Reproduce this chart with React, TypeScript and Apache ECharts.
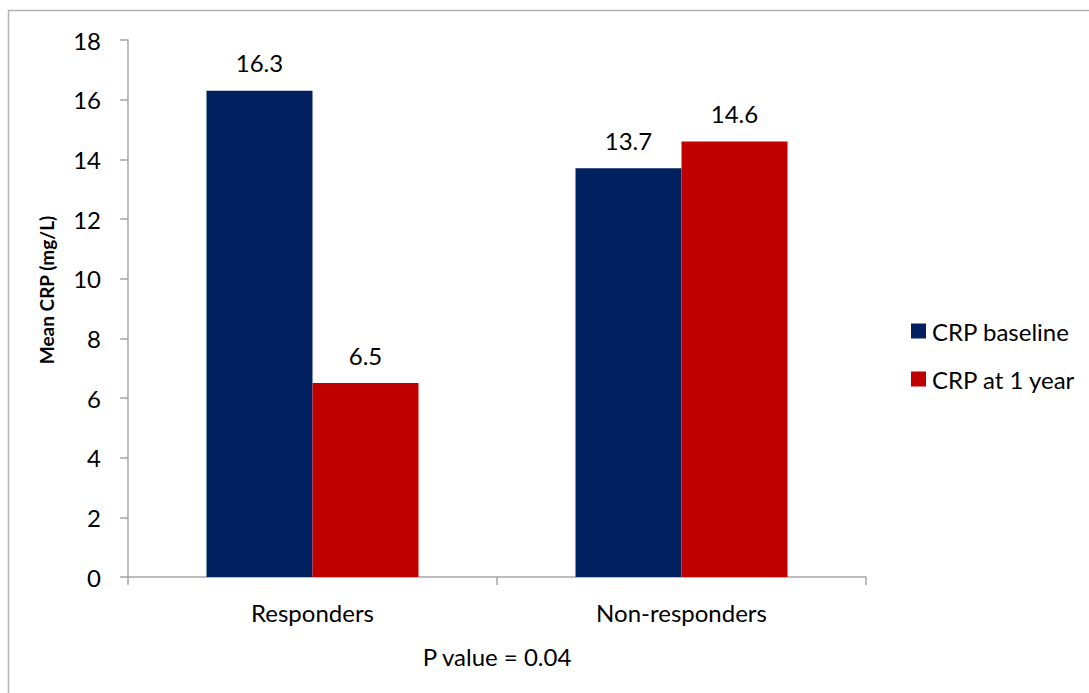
import React, { useEffect, useRef } from "react";
import * as echarts from "echarts";

const categories = ["Responders", "Non-responders"];
const seriesNames = ["CRP baseline", "CRP at 1 year"];
const baselineValues = [16.3, 13.7];
const oneYearValues = [6.5, 14.6];
const yTicks = { min: 0, max: 18, interval: 2 };
const yAxisTitle = "Mean CRP (mg/L)";
const footnote = "P value = 0.04";

const FONT = "Lato";
const FS = 24;

export default function App() {
  const ref = useRef<HTMLDivElement>(null);
  useEffect(() => {
    if (!ref.current) return;
    const chart = echarts.init(ref.current, undefined, { renderer: "svg" });
    const labelStyle = {
      show: true,
      position: "top" as const,
      distance: 16,
      fontFamily: FONT,
      fontSize: FS,
      color: "#000",
    };
    chart.setOption({
      animation: false,
      backgroundColor: "#fff",
      grid: { left: 128, right: 223, top: 40, bottom: 116, containLabel: false },
      legend: {
        orient: "vertical",
        left: 911,
        top: 319,
        padding: 0,
        itemWidth: 15,
        itemHeight: 15,
        itemGap: 24,
        icon: "rect",
        textStyle: { fontFamily: FONT, fontSize: FS, color: "#000", padding: [0, 0, 0, 1] },
        data: seriesNames,
      },
      xAxis: {
        type: "category",
        data: categories,
        axisLine: { lineStyle: { color: "#a6a6a6", width: 1.5 } },
        axisTick: { show: true, length: 8, lineStyle: { color: "#a6a6a6", width: 1.5 } },
        axisLabel: { fontFamily: FONT, fontSize: FS, color: "#000", margin: 23 },
      },
      yAxis: {
        type: "value",
        min: yTicks.min,
        max: yTicks.max,
        interval: yTicks.interval,
        splitLine: { show: false },
        axisLine: { show: true, lineStyle: { color: "#a6a6a6", width: 1.5 } },
        axisTick: { show: true, length: 8, lineStyle: { color: "#a6a6a6", width: 1.5 } },
        axisLabel: { fontFamily: FONT, fontSize: FS, color: "#000", margin: 27 },
      },
      series: [
        {
          name: seriesNames[0],
          type: "bar",
          data: baselineValues,
          barWidth: 106,
          barGap: "0%",
          itemStyle: { color: "#002060" },
          label: labelStyle,
        },
        {
          name: seriesNames[1],
          type: "bar",
          data: oneYearValues,
          barWidth: 106,
          barGap: "0%",
          itemStyle: { color: "#C00000" },
          label: labelStyle,
        },
      ],
      graphic: [
        {
          type: "rect",
          shape: { x: 8.5, y: 10.5, width: 1200, height: 800 },
          style: { fill: "none", stroke: "#b3b3b3", lineWidth: 1.5 },
          silent: true,
        },
        {
          type: "text",
          x: 46,
          y: 290,
          rotation: Math.PI / 2,
          style: {
            text: yAxisTitle,
            fontFamily: FONT,
            fontSize: 19,
            fontWeight: "bold",
            fill: "#000",
            align: "center",
            verticalAlign: "middle",
          },
        },
        {
          type: "text",
          x: 497,
          y: 656,
          style: {
            text: footnote,
            fontFamily: FONT,
            fontSize: FS,
            fill: "#000",
            align: "center",
            verticalAlign: "middle",
          },
        },
      ],
    });
    return () => chart.dispose();
  }, []);
  return (
    <div
      ref={ref}
      style={{ position: "absolute", left: 0, top: 0, width: 1089, height: 693 }}
    />
  );
}
